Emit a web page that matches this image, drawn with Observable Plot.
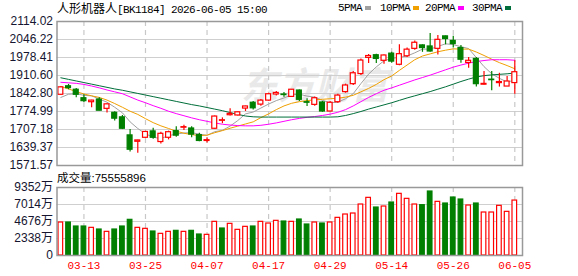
<!DOCTYPE html>
<html><head><meta charset="utf-8">
<script src="https://cdn.jsdelivr.net/npm/d3@7"></script>
<script src="https://cdn.jsdelivr.net/npm/@observablehq/plot@0.6"></script>
<style>
body{margin:0;background:#fff;}
#wrap{position:relative;width:578px;height:276px;overflow:hidden;background:#fff;}
.abs{position:absolute;white-space:nowrap;}
.mono{font-family:"Liberation Mono",monospace;font-size:11px;letter-spacing:-0.6px;color:#000;}
.cjk{font-family:"Noto Sans CJK SC",sans-serif;}
svg{background:transparent !important;}
</style></head><body><div id="wrap"></div>
<script>
// ---- data ----
const dates = ["03-10","03-11","03-12","03-13","03-16","03-17","03-18","03-19","03-20","03-23","03-24","03-25","03-26","03-27","03-30","03-31","04-01","04-02","04-03","04-07","04-08","04-09","04-10","04-13","04-14","04-15","04-16","04-17","04-20","04-21","04-22","04-23","04-24","04-27","04-28","04-29","04-30","05-06","05-07","05-08","05-11","05-12","05-13","05-14","05-15","05-18","05-19","05-20","05-21","05-22","05-25","05-26","05-27","05-28","05-29","06-01","06-02","06-03","06-04","06-05"];
const open  = [1838,1870,1857,1825,1810,1820,1785,1770,1753,1685,1661,1676,1700,1660,1676,1701,1714,1711,1686,1664,1710,1740,1761,1760,1786,1808,1801,1816,1839,1839,1830,1854,1810,1800,1809,1775,1810,1848,1878,1916,1977,1987,1966,1993,1951,1983,2011,2024,2020,2011,2058,2041,2014,1958,1973,1876,1895,1882,1869,1882];
const high  = [1868,1877,1862,1838,1817,1827,1803,1774,1760,1707,1667,1700,1712,1697,1701,1718,1723,1718,1693,1676,1758,1751,1785,1773,1795,1813,1820,1844,1850,1847,1858,1856,1823,1830,1813,1813,1840,1878,1926,1973,1990,1991,1988,1998,2026,2014,2041,2026,2069,2061,2059,2058,2024,1978,1978,1926,1926,1919,1907,1966];
const low   = [1836,1857,1827,1809,1789,1778,1769,1739,1707,1622,1618,1674,1670,1653,1668,1678,1703,1676,1661,1656,1708,1729,1758,1758,1775,1781,1795,1814,1833,1829,1828,1813,1794,1795,1772,1774,1806,1844,1873,1911,1956,1956,1953,1957,1947,1978,2006,1998,1998,1988,2026,2014,1957,1938,1867,1875,1853,1867,1869,1840];
const close = [1866,1863,1838,1814,1816,1778,1802,1748,1710,1631,1666,1698,1676,1691,1697,1684,1716,1688,1664,1667,1756,1742,1766,1772,1794,1787,1816,1840,1845,1837,1857,1819,1808,1825,1775,1808,1835,1873,1919,1967,1984,1973,1986,1963,1991,2008,2034,2014,2001,2045,2048,2029,1970,1966,1878,1879,1893,1886,1888,1923];
const ma5  = [1828,1840,1842,1836,1834,1822,1810,1791,1770,1736,1711,1691,1678,1673,1684,1690,1694,1695,1690,1685,1699,1704,1720,1741,1766,1773,1788,1803,1816,1826,1838,1840,1833,1829,1817,1808,1810,1823,1842,1880,1916,1943,1966,1975,1979,1984,1996,2010,2010,2020,2030,2027,2019,2012,1978,1944,1917,1900,1886,1893];
const ma10 = [1869,1860,1850,1841,1834,1828,1818,1805,1791,1776,1764,1748,1733,1721,1711,1701,1693,1688,1684,1686,1695,1703,1712,1720,1728,1736,1752,1766,1782,1796,1806,1812,1816,1819,1821,1823,1825,1829,1836,1849,1862,1877,1895,1909,1930,1950,1970,1984,1992,2000,2006,2011,2010,2010,1999,1986,1972,1959,1948,1936];
const ma20 = [1885,1883,1881,1877,1871,1864,1856,1849,1842,1830,1818,1808,1797,1787,1776,1767,1759,1751,1744,1738,1732,1727,1724,1722,1721,1721,1723,1727,1732,1738,1744,1749,1753,1756,1760,1765,1772,1782,1796,1812,1828,1842,1855,1864,1874,1884,1894,1903,1912,1922,1932,1942,1950,1957,1963,1967,1970,1970,1970,1968];
const ma30 = [1902,1896,1890,1884,1878,1872,1866,1860,1855,1849,1843,1837,1831,1825,1819,1813,1807,1801,1796,1790,1784,1778,1771,1764,1758,1755,1754,1754,1754,1754,1754,1754,1754,1754,1754,1754,1755,1760,1767,1775,1784,1792,1800,1808,1817,1826,1834,1842,1850,1859,1868,1878,1888,1897,1905,1910,1913,1915,1917,1920];
const volume = [4538,4538,3988,3988,3804,3575,3254,3575,3988,4904,3804,3667,3300,2979,3254,3392,3254,3392,2888,2842,4629,3713,4354,3529,3942,3988,4629,4400,4767,4675,4629,4950,4263,4538,4400,4538,5179,5638,5775,7013,7929,6600,6738,7288,8479,7792,7013,6921,8800,7379,7150,7975,7700,6875,7150,5913,5913,6829,6004,7556];
const volUp = [1,0,0,0,1,0,1,0,0,0,1,1,0,1,1,0,1,0,0,1,1,0,1,1,1,0,1,1,1,0,1,0,0,1,0,1,1,1,1,1,1,0,1,0,1,1,1,0,0,1,0,0,0,1,0,1,1,1,1,1];
const priceTicks = [1571.57,1639.37,1707.18,1774.99,1842.80,1910.60,1978.41,2046.22,2114.02];
const priceTickLabels = ["1571.57","1639.37","1707.18","1774.99","1842.80","1910.60","1978.41","2046.22","2114.02"];
const volTicks = [0,2338,4676,7014,9352];
const volTickLabels = ["0","2338万","4676万","7014万","9352万"];
const xLabelIdx = [3,11,19,27,35,43,51,59];
const maNames = ["5PMA","10PMA","20PMA","30PMA"];
const maColors = ["#a0a0a0","#f0a000","#ff00ff","#006e3a"];
const titleName = "人形机器人";
const titleRest = "[BK1184] 2026-06-05 15:00";
const volLabel = "成交量";
const volValue = "75555896";
const watermark = "东方财富";

// ---- build ----
const RED = "#ff0000", GREEN = "#007f00";
const bars = dates.map((d,i)=>({i, d, o:open[i], h:high[i], l:low[i], c:close[i], up: close[i]>=open[i],
  top: Math.max(open[i],close[i]), bot: Math.min(open[i],close[i]), v: volume[i], vu: volUp[i]===1}));
const maSeries = [ma5,ma10,ma20,ma30];
const maData = maSeries.flatMap((s,k)=>s.map((v,i)=>({i, v, k})));
const hw = 0.32;
const ptLab = new Map(priceTicks.map((t,i)=>[t,priceTickLabels[i]]));
const vtLab = new Map(volTicks.map((t,i)=>[t,volTickLabels[i]]));
const xScale = {type:"linear", domain:[-0.5, 60], axis:null};
const fontAxis = "Liberation Sans, Arial, sans-serif";

const main = Plot.plot({
  width:578, height:172, marginLeft:56.5, marginRight:56, marginTop:21, marginBottom:7,
  x: xScale,
  y: {domain:[priceTicks[0], priceTicks[priceTicks.length-1]], axis:null},
  style:{background:"transparent", overflow:"visible"},
  marks:[
    Plot.text([watermark], {frameAnchor:"top-left", dx:184, dy:51, fontSize:37, fontWeight:"bold", fontStyle:"italic",
      fill:"#e9e9e9", textAnchor:"start", lineAnchor:"top", fontFamily:"Noto Sans CJK SC"}),
    Plot.ruleY(priceTicks.slice(1,-1), {stroke:"#cfcfcf", strokeWidth:1.2}),
    Plot.ruleX(xLabelIdx, {stroke:"#c8c8c8", strokeDasharray:"5,4", strokeWidth:1.2}),
    Plot.line(maData, {x:"i", y:"v", z:"k", stroke:d=>maColors[d.k], strokeWidth:1}),
    Plot.ruleX(bars, {x:"i", y1:"l", y2:"h", stroke:d=>d.up?RED:GREEN, strokeWidth:1.2}),
    Plot.rect(bars, {x1:d=>d.i-hw, x2:d=>d.i+hw, y1:"bot", y2:"top",
      fill:d=>d.up?"#ffffff":GREEN, stroke:d=>d.up?RED:GREEN, strokeWidth:1.2}),
    Plot.frame({stroke:"#999", strokeWidth:1.5}),
    Plot.axisY(priceTicks, {tickSize:0, tickPadding:4, tickFormat:d=>ptLab.get(d), fontSize:12,
      fill:"#151530", fontFamily:fontAxis, label:null})
  ]
});
main.style.position="absolute"; main.style.left="0px"; main.style.top="0px";

const vol = Plot.plot({
  width:578, height:106, marginLeft:56.5, marginRight:56, marginTop:17, marginBottom:21,
  x: xScale,
  y: {domain:[0, volTicks[volTicks.length-1]], axis:null},
  style:{background:"transparent", overflow:"visible"},
  marks:[
    Plot.ruleY(volTicks.slice(1,-1), {stroke:"#cfcfcf", strokeWidth:1.2}),
    Plot.ruleX(xLabelIdx, {stroke:"#c8c8c8", strokeDasharray:"5,4", strokeWidth:1.2}),
    Plot.rect(bars, {x1:d=>d.i-0.3, x2:d=>d.i+0.3, y1:0, y2:"v",
      fill:d=>d.vu?"#ffffff":GREEN, stroke:d=>d.vu?RED:GREEN, strokeWidth:1.2}),
    Plot.frame({stroke:"#999", strokeWidth:1.5}),
    Plot.axisY(volTicks, {tickSize:0, tickPadding:4, tickFormat:d=>vtLab.get(d), fontSize:12,
      fill:"#151530", fontFamily:"Liberation Sans, Noto Sans CJK SC, sans-serif", label:null}),
    Plot.axisX(xLabelIdx, {tickSize:0, tickPadding:6, tickFormat:i=>dates[i], fontSize:11,
      fill:"#ff0000", fontFamily:"Liberation Mono, monospace", label:null})
  ]
});
vol.style.position="absolute"; vol.style.left="0px"; vol.style.top="170px";

const wrap = document.getElementById("wrap");
wrap.appendChild(main);
wrap.appendChild(vol);

// title
const t = document.createElement("div");
t.className="abs"; t.style.left="57px"; t.style.top="0px"; t.style.lineHeight="15px";
t.innerHTML = `<span class="cjk" style="font-size:12px">${titleName}</span><span class="mono">${titleRest}</span>`;
wrap.appendChild(t);

// legend
const legX = [338,380,425,472];
maNames.forEach((n,k)=>{
  const el = document.createElement("div");
  el.className="abs mono"; el.style.left=legX[k]+"px"; el.style.top="1px"; el.style.lineHeight="15px";
  el.innerHTML = `${n}<span style="display:inline-block;width:6px;height:4px;background:${maColors[k]};margin-left:3px;vertical-align:1px;letter-spacing:0"></span>`;
  wrap.appendChild(el);
});

// volume label
const vl = document.createElement("div");
vl.className="abs"; vl.style.left="57px"; vl.style.top="169px"; vl.style.lineHeight="16px";
vl.innerHTML = `<span class="cjk" style="font-size:11.5px">${volLabel}</span><span style="font-family:'Liberation Sans';font-size:11.5px">:${volValue}</span>`;
wrap.appendChild(vl);
</script></body></html>
